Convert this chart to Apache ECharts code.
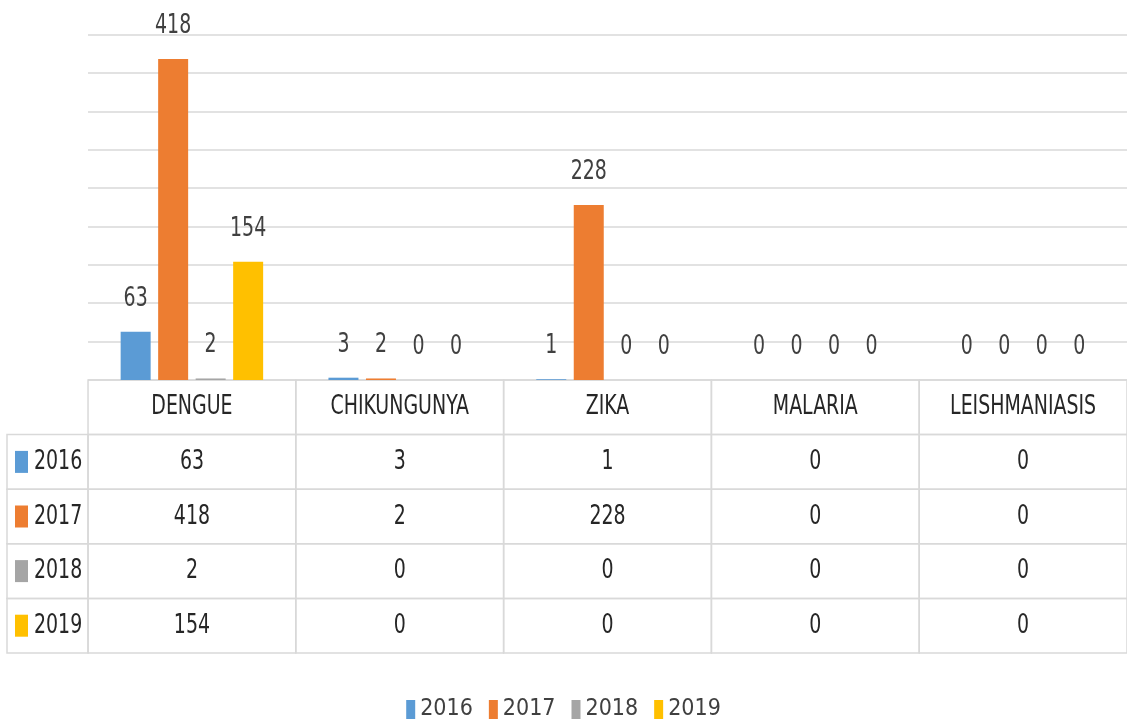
<!DOCTYPE html>
<html>
<head>
<meta charset="utf-8">
<script src="https://cdn.jsdelivr.net/npm/echarts@6/dist/echarts.min.js"></script>
<style>
  html, body { margin: 0; padding: 0; background: #fff; }
  #main { width: 1127px; height: 721px; }
</style>
</head>
<body>
<div id="main"></div>
<script>
var diseases = ['DENGUE', 'CHIKUNGUNYA', 'ZIKA', 'MALARIA', 'LEISHMANIASIS'];
var years = ['2016', '2017', '2018', '2019'];
var cases2016 = [63, 3, 1, 0, 0];
var cases2017 = [418, 2, 228, 0, 0];
var cases2018 = [2, 0, 0, 0, 0];
var cases2019 = [154, 0, 0, 0, 0];
var yearColors = ['#5B9BD5', '#ED7D31', '#A5A5A5', '#FFC000'];

var allCases = [cases2016, cases2017, cases2018, cases2019];
var fontFamily = '"DejaVu Sans Condensed", "DejaVu Sans", sans-serif';
var squeeze = 0.78;   // the source font is a narrow one
var barW = 30, barGap = 0.25;

// data table under the plot: [colStart, colEnd, row, text, yearIndex]
var headW = 0.39;
var cells = [];
diseases.forEach(function (d, i) { cells.push([i, i + 1, 0, d, -1]); });
years.forEach(function (y, r) {
  cells.push([-headW, 0, r + 1, y, r]);
  allCases[r].forEach(function (v, i) { cells.push([i, i + 1, r + 1, String(v), -1]); });
});

// value labels above bars: [categoryIndex, value, yearIndex]
var labelData = [];
years.forEach(function (y, r) {
  allCases[r].forEach(function (v, i) { labelData.push([i, v, r]); });
});

function narrowText(x, y, text, align, color) {
  return {
    type: 'text', x: x, y: y, scaleX: squeeze,
    style: { text: text, x: 0, y: 0, align: align, verticalAlign: 'middle',
      fontFamily: fontFamily, fontSize: 27, fill: color }
  };
}

function renderCell(params, api) {
  var c = cells[params.dataIndex];
  var p0 = api.coord([c[0], c[2]]);
  var p1 = api.coord([c[1], c[2] + 1]);
  var x = p0[0], y = p0[1], w = p1[0] - p0[0], h = p1[1] - p0[1];
  var kids = [{
    type: 'rect',
    shape: { x: x, y: y, width: w, height: h },
    style: { fill: 'none', stroke: '#d9d9d9', lineWidth: 1.5 }
  }];
  if (c[4] >= 0) {
    kids.push({ type: 'rect', shape: { x: x + 8, y: y + h / 2 - 11, width: 13, height: 22 },
      style: { fill: yearColors[c[4]] } });
    kids.push(narrowText(x + 27, y + h / 2, c[3], 'left', '#262626'));
  } else {
    kids.push(narrowText(x + w / 2, y + h / 2, c[3], 'center', '#262626'));
  }
  return { type: 'group', children: kids };
}

function renderLabel(params, api) {
  var d = labelData[params.dataIndex];
  var p = api.coord([d[0], d[1]]);
  var cx = p[0] + (d[2] - 1.5) * barW * (1 + barGap);
  return narrowText(cx, p[1] - 33, String(d[1]), 'center', '#404040');
}

var myChart = echarts.init(document.getElementById('main'));

var series = years.map(function (y, r) {
  return {
    name: y,
    type: 'bar',
    data: allCases[r],
    barWidth: barW,
    barGap: (barGap * 100) + '%',
    itemStyle: { color: yearColors[r] }
  };
});

series.push({
  type: 'custom',
  xAxisIndex: 0,
  yAxisIndex: 0,
  renderItem: renderLabel,
  data: labelData,
  silent: true
});

series.push({
  type: 'custom',
  xAxisIndex: 1,
  yAxisIndex: 1,
  renderItem: renderCell,
  data: cells.map(function (c) { return [c[0], c[2]]; }),
  silent: true
});

var option = {
  animation: false,
  color: yearColors,
  legend: {
    data: years,
    top: 693,
    left: 'center',
    icon: 'rect',
    itemWidth: 9,
    itemHeight: 19,
    itemGap: 16,
    textStyle: { fontSize: 23, color: '#404040', fontFamily: fontFamily }
  },
  grid: [
    { left: 88, right: -3, top: 34.5, bottom: 341 },
    { left: 7, right: -3, top: 380, bottom: 68 }
  ],
  xAxis: [
    {
      type: 'category',
      gridIndex: 0,
      data: diseases,
      axisLine: { show: false },
      axisTick: { show: false },
      axisLabel: { show: false }
    },
    {
      type: 'value',
      gridIndex: 1,
      min: -headW,
      max: 5,
      show: false
    }
  ],
  yAxis: [
    {
      type: 'value',
      gridIndex: 0,
      min: 0,
      max: 450,
      interval: 50,
      axisLabel: { show: false },
      axisLine: { show: false },
      axisTick: { show: false },
      splitLine: { lineStyle: { color: '#d9d9d9', width: 1.5 } }
    },
    {
      type: 'value',
      gridIndex: 1,
      min: 0,
      max: 5,
      inverse: true,
      show: false
    }
  ],
  series: series
};

myChart.setOption(option);
</script>
</body>
</html>
